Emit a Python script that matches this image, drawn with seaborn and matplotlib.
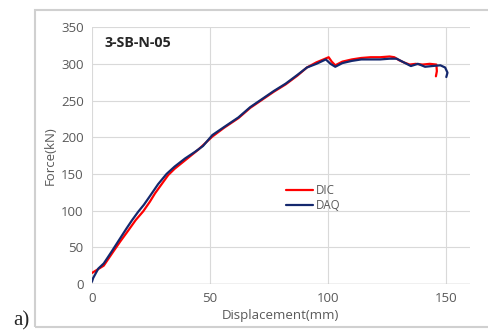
import numpy as np
import pandas as pd
import matplotlib
matplotlib.use("Agg")
import matplotlib.pyplot as plt
from matplotlib.patches import Rectangle
import seaborn as sns

# curve points
dic_disp = [0, 1, 3, 5, 9, 12, 15.4, 18.5, 21.7, 24.5, 26.7, 29.5, 32.3, 35, 40, 45,
            51, 56, 62, 67, 72, 77, 82, 87, 91, 95, 98, 100.2, 101.5, 103, 106, 110,
            114, 118, 122, 126, 128, 130, 132, 134.5, 137, 140, 143, 145.8, 146, 145.6]
dic_force = [15, 17, 21, 25, 44, 58, 73, 87, 99, 112, 123.5, 136, 148.5, 157, 170, 183,
             201, 213, 226, 240, 251, 262, 272, 284, 295, 302, 306, 309, 303, 298, 303, 306,
             308, 309, 309, 310, 309, 305, 302, 299, 300, 299, 300, 299, 290, 283]

daq_disp = [0, 0.5, 2.7, 5, 8.3, 11.5, 14.7, 17, 19.6, 22, 24.6, 28, 31.6, 35, 39.4, 43.6,
            47, 51, 56, 62, 67, 72, 77, 82, 87, 91, 95, 99, 101, 103, 106, 110, 114, 118,
            122, 126, 129, 132, 135, 138, 141, 144, 147.5, 149.5, 150.5, 150]
daq_force = [3, 8, 21, 28, 44, 60, 76, 87, 98.5, 108, 120, 136, 150, 160, 171, 180,
             188, 203, 214, 227, 241, 252, 263, 273, 285, 295, 300, 306, 300, 296, 301, 304,
             306, 306, 306, 307, 307, 302, 297, 300, 296, 297, 298, 295, 288, 282]

x_ticks = [0, 50, 100, 150]
y_ticks = [0, 50, 100, 150, 200, 250, 300, 350]

df = pd.concat([
    pd.DataFrame({"disp": dic_disp, "force": dic_force, "series": "DIC"}),
    pd.DataFrame({"disp": daq_disp, "force": daq_force, "series": "DAQ"}),
], ignore_index=True)

sns.set_style("white")
plt.rcParams["font.family"] = ["Open Sans", "DejaVu Sans"]

fig = plt.figure(figsize=(4.89, 3.31), dpi=100)
ax = fig.add_axes([0.188, 0.142, 0.773, 0.776])

sns.lineplot(data=df, x="disp", y="force", hue="series", estimator=None, sort=False,
             palette={"DIC": "#ff0000", "DAQ": "#14286e"}, linewidth=1.6, ax=ax)

ax.set_xlim(0, 160)
ax.set_ylim(0, 350)
ax.set_xticks(x_ticks)
ax.set_yticks(y_ticks)
ax.grid(True, color="#d9d9d9", linewidth=0.8)
for s in ax.spines.values():
    s.set_visible(False)
ax.axhline(0, color="#bfbfbf", linewidth=1, zorder=1)
ax.tick_params(axis="both", length=0, labelsize=9.5, labelcolor="#595959", pad=6)

ax.set_xlabel("Displacement(mm)", fontsize=9.5, color="#595959", labelpad=3)
ax.set_ylabel("Force(kN)", fontsize=9.5, color="#595959", labelpad=3)

ax.text(5.5, 328, "3-SB-N-05", fontsize=10.3, fontweight="bold", va="center", ha="left")

ax.legend(loc="upper left", bbox_to_anchor=(0.485, 0.43), frameon=False, fontsize=8.3,
          handlelength=2.4, handletextpad=0.2, labelspacing=0.15, labelcolor="#595959")

fig.patches.append(Rectangle((35 / 489, 4 / 331), 1.0, 1 - 14 / 331, transform=fig.transFigure,
                             fill=False, edgecolor="#d0d0d0", linewidth=1.5))

fig.text(0.028, 0.018, "a)", family="Liberation Serif", fontsize=15)

fig.savefig("out.png", dpi=100)
